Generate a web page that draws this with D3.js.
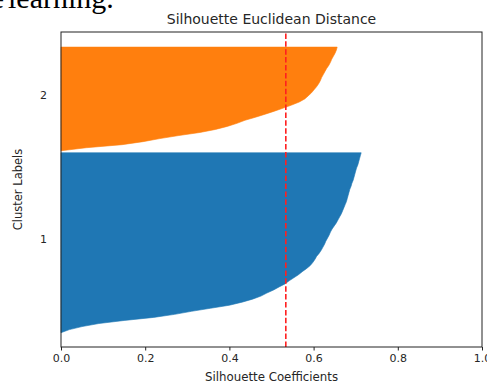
<!DOCTYPE html>
<html>
<head>
<meta charset="utf-8">
<script src="https://cdn.jsdelivr.net/npm/d3@7"></script>
<style>
  body { margin: 0; background: #fff; }
  svg { display: block; }
  .tick text { font-family: "DejaVu Sans", sans-serif; }
</style>
</head>
<body>
<div id="chart"></div>
<script>
// cluster labels and sorted silhouette values (bottom to top)
const clusterLabels = ['1', '2'];
const cluster1 = [0.00, 0.02, 0.05, 0.09, 0.15, 0.22, 0.27, 0.31, 0.355, 0.40,
  0.43, 0.455, 0.475, 0.489, 0.505, 0.518, 0.532, 0.542, 0.553, 0.564,
  0.573, 0.583, 0.592, 0.598, 0.603, 0.607, 0.613, 0.618, 0.622, 0.626,
  0.629, 0.633, 0.637, 0.640, 0.644, 0.649, 0.654, 0.658, 0.662, 0.666,
  0.669, 0.672, 0.675, 0.678, 0.680, 0.682, 0.684, 0.686, 0.689, 0.691,
  0.694, 0.696, 0.698, 0.700, 0.702, 0.705, 0.707, 0.709, 0.711, 0.713];
const cluster2 = [0.00, 0.06, 0.145, 0.195, 0.235, 0.28, 0.33, 0.367, 0.395, 0.418,
  0.437, 0.462, 0.485, 0.507, 0.528, 0.548, 0.566, 0.579, 0.587, 0.595,
  0.601, 0.607, 0.612, 0.616, 0.619, 0.623, 0.627, 0.631, 0.636, 0.640,
  0.643, 0.647, 0.651, 0.654, 0.656];
const silhouetteAvg = 0.534;
const xTicks = [0, 0.2, 0.4, 0.6, 0.8, 1.0];

const clusters = [cluster1, cluster2];
const colors = ['#1f77b4', '#ff7f0e'];

const width = 487, height = 385;
const margin = { top: 32, right: 5, bottom: 38, left: 61 };
const sans = '"DejaVu Sans", sans-serif';
const textColor = '#262626';

const svg = d3.select('#chart').append('svg')
  .attr('width', width)
  .attr('height', height);

// clipped bit of the surrounding page text
const serif = '"Liberation Serif", "DejaVu Serif", serif';
svg.append('text')
  .attr('x', 8).attr('y', 7.5)
  .style('font-family', serif).style('font-size', '30px')
  .text('learning.');
svg.append('text')
  .attr('x', 4).attr('y', 7.5)
  .attr('text-anchor', 'end')
  .style('font-family', serif).style('font-size', '30px')
  .text('e');

const x = d3.scaleLinear().domain([0, 1]).range([margin.left, width - margin.right]);
const y = d3.scaleLinear().domain([0, 103.3]).range([height - margin.bottom, margin.top]);

const area = d3.area()
  .x0(x(0))
  .x1(d => x(d.v))
  .y(d => y(d.pos));

let yLower = 4.7;
clusters.forEach((vals, k) => {
  const pts = vals.map((v, i) => ({ v: v, pos: yLower + i }));
  svg.append('path')
    .datum(pts)
    .attr('d', area)
    .attr('fill', colors[k])
    .attr('stroke', colors[k])
    .attr('stroke-width', 0.6);

  // label in the middle of the band (baseline aligned like ax.text)
  svg.append('text')
    .attr('x', x(-0.05))
    .attr('y', y(yLower + 0.5 * (vals.length - 1)))
    .style('font-family', sans)
    .style('font-size', '11px')
    .attr('fill', textColor)
    .text(clusterLabels[k]);

  yLower += vals.length - 1 + 0.65;
});

// average silhouette line
svg.append('line')
  .attr('x1', x(silhouetteAvg)).attr('x2', x(silhouetteAvg))
  .attr('y1', y(0)).attr('y2', y(103.3))
  .attr('stroke', '#ff2020')
  .attr('stroke-width', 1.6)
  .attr('stroke-dasharray', '5.5,2.4');

// frame
svg.append('rect')
  .attr('x', x(0)).attr('y', y(103.3))
  .attr('width', x(1) - x(0)).attr('height', y(0) - y(103.3))
  .attr('fill', 'none')
  .attr('stroke', '#222')
  .attr('stroke-width', 1);

const xAxis = svg.append('g')
  .attr('transform', `translate(0,${y(0)})`)
  .call(d3.axisBottom(x).tickValues(xTicks).tickFormat(d3.format('.1f')).tickSize(3.5).tickPadding(3.5));
xAxis.select('.domain').remove();
xAxis.selectAll('.tick line').attr('stroke', '#222');
xAxis.selectAll('.tick text').style('font-size', '11px').attr('fill', textColor);

svg.append('text')
  .attr('x', (x(0) + x(1)) / 2).attr('y', 24)
  .attr('text-anchor', 'middle')
  .style('font-family', sans)
  .style('font-size', '14px')
  .attr('fill', textColor)
  .text('Silhouette Euclidean Distance');

svg.append('text')
  .attr('x', (x(0) + x(1)) / 2).attr('y', 381)
  .attr('text-anchor', 'middle')
  .style('font-family', sans)
  .style('font-size', '11.8px')
  .attr('fill', textColor)
  .text('Silhouette Coefficients');

svg.append('text')
  .attr('transform', `translate(22,${(y(0) + y(103.3)) / 2}) rotate(-90)`)
  .attr('text-anchor', 'middle')
  .style('font-family', sans)
  .style('font-size', '11.5px')
  .attr('fill', textColor)
  .text('Cluster Labels');
</script>
</body>
</html>
